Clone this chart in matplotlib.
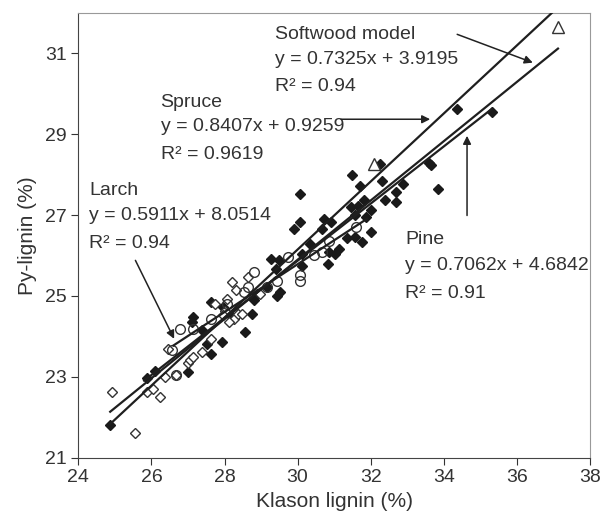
import matplotlib
matplotlib.use("Agg")
import matplotlib.pyplot as plt
import numpy as np

plt.rcParams["font.family"] = ["Liberation Sans", "DejaVu Sans"]

# Pine (filled diamonds)
pine_x = [34.37, 35.31, 33.60, 33.65, 33.84, 32.25, 32.30, 31.50, 31.72, 31.82, 32.01, 32.39,
          32.69, 32.69, 32.88, 32.01, 31.77, 31.56, 31.35, 31.45, 31.56, 31.88, 31.66, 31.13,
          31.03, 30.82, 30.87, 30.71, 30.92, 30.66, 30.34, 30.07, 30.07, 29.91, 30.13, 30.13,
          29.28, 29.49, 29.40, 29.44, 29.51, 28.90, 28.80, 28.75, 28.55, 27.95, 27.92, 27.63,
          27.63, 27.52, 27.15, 27.10, 27.00, 26.09, 25.88, 24.87, 27.37, 28.21, 29.17]
pine_y = [29.62, 29.54, 28.30, 28.24, 27.64, 28.26, 27.85, 28.00, 27.73, 27.37, 27.13, 27.38,
          27.56, 27.32, 27.78, 26.58, 26.33, 26.45, 26.44, 27.19, 26.99, 26.95, 27.23, 26.16,
          26.04, 25.79, 26.08, 26.90, 26.82, 26.66, 26.29, 27.52, 26.82, 26.66, 26.04, 25.75,
          25.92, 25.88, 25.67, 25.01, 25.09, 25.05, 24.89, 24.56, 24.11, 24.72, 23.86, 24.85,
          23.57, 23.82, 24.48, 24.36, 23.12, 23.14, 22.96, 21.81, 24.15, 24.48, 25.22]

# Larch (open diamonds)
larch_x = [24.92, 25.54, 25.88, 26.04, 26.22, 26.36, 26.46, 26.68, 26.99, 27.05, 27.13, 27.39,
           27.63, 28.21, 27.74, 28.00, 28.06, 27.95, 28.32, 28.27, 28.37, 28.64, 28.11, 28.48, 28.96]
larch_y = [22.63, 21.60, 22.63, 22.71, 22.50, 23.00, 23.70, 23.04, 23.33, 23.41, 23.49, 23.62,
           23.94, 25.34, 24.81, 24.64, 24.93, 24.52, 25.14, 24.44, 24.56, 25.47, 24.36, 24.56, 25.05]

# Spruce (open circles)
spruce_x = [26.78, 26.57, 27.15, 26.68, 27.63, 28.06, 28.53, 28.80, 29.17, 29.44, 29.75, 30.07,
            30.07, 30.44, 30.66, 31.61, 30.87, 28.64]
spruce_y = [24.19, 23.66, 24.19, 23.04, 24.44, 24.81, 25.10, 25.59, 25.22, 25.38, 25.96, 25.51,
            25.38, 26.02, 26.08, 26.70, 26.37, 25.22]

# other softwood (open triangles)
tri_x = [32.09, 37.13]
tri_y = [28.26, 31.65]

# regression lines: slope, intercept, x-range
fits = {
    "Softwood model": (0.7325, 3.9195, 24.87, 37.13),
    "Spruce": (0.8407, 0.9259, 24.87, 37.30),
    "Larch": (0.5911, 8.0514, 26.60, 31.90),
    "Pine": (0.7062, 4.6842, 25.80, 35.32),
}
r2 = {"Softwood model": "0.94", "Spruce": "0.9619", "Larch": "0.94", "Pine": "0.91"}
label_pos = {"Softwood model": (29.38, [31.47, 30.85, 30.17]),
             "Spruce": (26.25, [29.78, 29.18, 28.51]),
             "Larch": (24.29, [27.60, 27.00, 26.30]),
             "Pine": (32.94, [26.39, 25.75, 25.07])}
arrows = {"Softwood model": ((34.37, 31.47), (36.44, 30.77)),
          "Spruce": ((31.19, 29.37), (33.63, 29.37)),
          "Larch": ((25.56, 25.88), (26.62, 23.94)),
          "Pine": ((34.64, 26.99), (34.64, 28.96))}

fig = plt.figure(figsize=(6.08, 5.16), dpi=100)
ax = fig.add_axes([0.129, 0.113, 0.841, 0.862])

ax.plot(pine_x, pine_y, "D", ms=5, color="#1a1a1a", mec="#1a1a1a", zorder=3)
ax.plot(larch_x, larch_y, "D", ms=5, mfc="white", mec="#333333", mew=1, zorder=3)
ax.plot(spruce_x, spruce_y, "o", ms=7, mfc="none", mec="#333333", mew=1, zorder=3)
ax.plot(tri_x, tri_y, "^", ms=9, mfc="white", mec="#333333", mew=1, zorder=3)

for name, (a, b, x0, x1) in fits.items():
    xs = np.array([x0, x1])
    ax.plot(xs, a * xs + b, color="#1f1f1f", lw=1.6, zorder=4)

for name, (x, ys) in label_pos.items():
    a, b, _, _ = fits[name]
    lines = [name, f"y = {a:.4f}x + {b:.4f}", f"R² = {r2[name]}"]
    for t, y in zip(lines, ys):
        ax.text(x, y, t, fontsize=14, color="#333333", va="center", ha="left")

for name, (start, end) in arrows.items():
    ax.annotate("", xy=end, xytext=start,
                arrowprops=dict(arrowstyle="-|>", lw=1.1, color="#222222", mutation_scale=12,
                                shrinkA=0, shrinkB=0))

ax.set_xlim(24, 38)
ax.set_ylim(21, 32)
ax.set_xticks(range(24, 39, 2))
ax.set_yticks(range(21, 32, 2))
ax.tick_params(direction="out", length=5, labelsize=14, colors="#333333")
for s in ["left", "bottom"]:
    ax.spines[s].set_color("#444444")
for s in ["top", "right"]:
    ax.spines[s].set_color("#999999")
ax.set_xlabel("Klason lignin (%)", fontsize=15, color="#333333", labelpad=4)
ax.set_ylabel("Py-lignin (%)", fontsize=15, color="#333333", labelpad=6)

fig.savefig("out.png", dpi=100)
